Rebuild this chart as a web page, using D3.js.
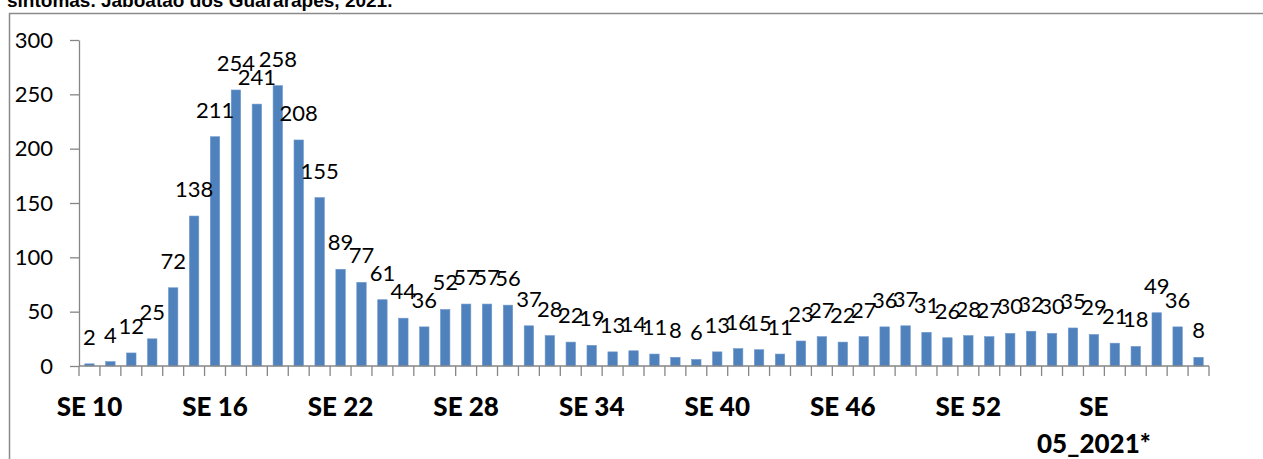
<!DOCTYPE html>
<html>
<head>
<meta charset="utf-8">
<script src="https://cdn.jsdelivr.net/npm/d3@7"></script>
<style>
  html, body { margin: 0; padding: 0; background: #fff; overflow: hidden; }
  svg { display: block; }
</style>
</head>
<body>
<svg id="chart" width="1263" height="459"></svg>
<script>
const titleText = "sintomas. Jaboatão dos Guararapes, 2021.";

const categories = [
  "SE 10","SE 11","SE 12","SE 13","SE 14","SE 15","SE 16","SE 17","SE 18","SE 19",
  "SE 20","SE 21","SE 22","SE 23","SE 24","SE 25","SE 26","SE 27","SE 28","SE 29",
  "SE 30","SE 31","SE 32","SE 33","SE 34","SE 35","SE 36","SE 37","SE 38","SE 39",
  "SE 40","SE 41","SE 42","SE 43","SE 44","SE 45","SE 46","SE 47","SE 48","SE 49",
  "SE 50","SE 51","SE 52","SE 53",
  "SE 01_2021*","SE 02_2021*","SE 03_2021*","SE 04_2021*","SE 05_2021*",
  "SE 06_2021*","SE 07_2021*","SE 08_2021*","SE 09_2021*","SE 10_2021*"
];

const cases = [
  2, 4, 12, 25, 72, 138, 211, 254, 241, 258,
  208, 155, 89, 77, 61, 44, 36, 52, 57, 57,
  56, 37, 28, 22, 19, 13, 14, 11, 8, 6,
  13, 16, 15, 11, 23, 27, 22, 27, 36, 37,
  31, 26, 28, 27, 30, 32, 30, 35, 29, 21,
  18, 49, 36, 8
];

const yTicks = [0, 50, 100, 150, 200, 250, 300];
const shownLabels = ["SE 10","SE 16","SE 22","SE 28","SE 34","SE 40","SE 46","SE 52","SE 05_2021*"];

const svg = d3.select("#chart");
const W = 1263, H = 459;

// frame
const frameColor = "#8a8a8a";
svg.append("path")
  .attr("d", `M9.5,${H} L9.5,13.5 L${W},13.5`)
  .attr("fill", "none").attr("stroke", frameColor).attr("stroke-width", 1.5);

// title (clipped at top)
svg.append("text")
  .attr("x", 7).attr("y", 7)
  .attr("font-family", "'Liberation Sans', Arial, sans-serif")
  .attr("font-weight", "bold").attr("font-size", 19)
  .attr("fill", "#000")
  .text(titleText);

const plot = { left: 79, right: 1209, top: 40, bottom: 366 };
const pad = 0.55;
const x = d3.scaleBand().domain(categories)
  .range([plot.left, plot.right]).paddingInner(pad).paddingOuter(pad / 2);
const y = d3.scaleLinear().domain([0, 300]).range([plot.bottom, plot.top]);

const axisColor = "#868686";
const numFont = "Lato, 'Open Sans', sans-serif";

// y axis
const yAxis = svg.append("g")
  .attr("transform", `translate(${plot.left},0)`)
  .call(d3.axisLeft(y).tickValues(yTicks).tickSize(9).tickPadding(17).tickSizeOuter(0));
yAxis.select(".domain").attr("stroke", axisColor).attr("stroke-width", 1.3);
yAxis.selectAll(".tick line").attr("stroke", axisColor).attr("stroke-width", 1.3);
yAxis.selectAll(".tick text")
  .attr("font-family", numFont).attr("font-size", 22).attr("fill", "#000");

// bars
const step = x.step();
const offset = (step - x.bandwidth()) / 2;
svg.append("g").selectAll("rect")
  .data(cases)
  .join("rect")
  .attr("x", (d, i) => x(categories[i]))
  .attr("y", d => y(d))
  .attr("width", x.bandwidth())
  .attr("height", d => y(0) - y(d))
  .attr("fill", "#4F81BD")
  .attr("stroke", "#6f98cc").attr("stroke-width", 0.6);

// x axis line and boundary ticks
const xg = svg.append("g");
xg.append("line")
  .attr("x1", plot.left).attr("x2", x(categories[categories.length - 1]) + x.bandwidth() + offset)
  .attr("y1", y(0)).attr("y2", y(0))
  .attr("stroke", axisColor).attr("stroke-width", 1.3);
const bounds = categories.map(c => x(c) - offset)
  .concat([x(categories[categories.length - 1]) + x.bandwidth() + offset]);
xg.selectAll("line.tk").data(bounds).join("line").attr("class", "tk")
  .attr("x1", d => d).attr("x2", d => d)
  .attr("y1", y(0)).attr("y2", y(0) + 10)
  .attr("stroke", axisColor).attr("stroke-width", 1.3);

// category labels
const catFont = "Lato, 'Open Sans', sans-serif";
shownLabels.forEach(lab => {
  const cx = x(lab) + x.bandwidth() / 2;
  const t = svg.append("text")
    .attr("x", cx).attr("y", 416)
    .attr("text-anchor", "middle")
    .attr("font-family", catFont).attr("font-weight", 900).attr("font-size", 26)
    .attr("fill", "#000");
  if (lab.includes("_")) {
    const parts = lab.split(" ");
    t.append("tspan").attr("x", cx).attr("y", 416).text(parts[0]);
    t.append("tspan").attr("x", cx).attr("y", 453).text(parts[1]);
  } else {
    t.text(lab);
  }
});

// data labels
svg.append("g").selectAll("text")
  .data(cases)
  .join("text")
  .attr("x", (d, i) => x(categories[i]) + x.bandwidth() / 2)
  .attr("y", d => y(d) - 19)
  .attr("text-anchor", "middle")
  .attr("font-family", numFont).attr("font-size", 22)
  .attr("fill", "#000")
  .text(d => d);
</script>
</body>
</html>
